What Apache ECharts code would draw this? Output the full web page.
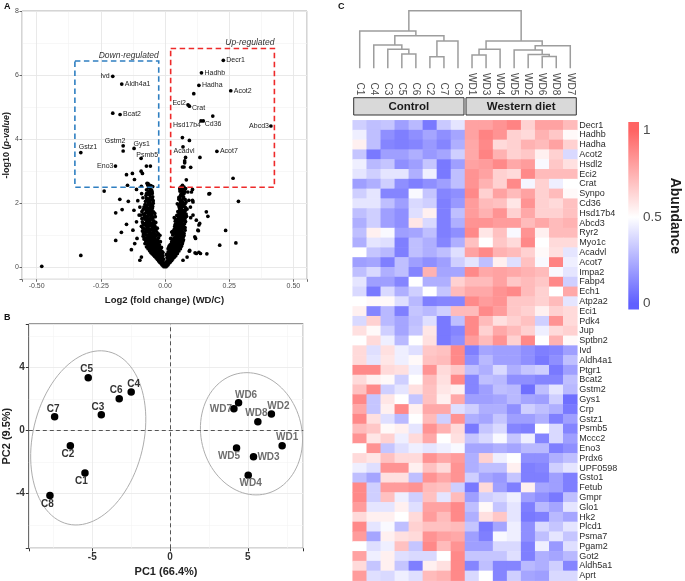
<!DOCTYPE html>
<html><head><meta charset="utf-8">
<script src="https://cdn.jsdelivr.net/npm/echarts@6/dist/echarts.min.js"></script>
<style>html,body{margin:0;padding:0;background:#fff}#c{width:685px;height:581px}</style>
</head><body><div id="c"></div>
<script>
// ================= DATA =================
// Panel A: volcano plot  [log2 FC (WD/C), -log10 p]
const volcanoLabeled = [
  ['Decr1',0.227,6.46],['Hadhb',0.142,6.07],['Hadha',0.132,5.68],['Acot2',0.256,5.51],
  ['Eci2',0.0895,5.07],['Crat',0.095,5.03],['Hsd17b4',0.140,4.57],['Cd36',0.149,4.57],
  ['Abcd3',0.4125,4.41],['Acadvl',0.070,3.76],['Acot7',0.202,3.62],
  ['Ivd',-0.2035,5.96],['Aldh4a1',-0.1685,5.72],['Bcat2',-0.175,4.77],['Gstm2',-0.163,3.79],
  ['Gys1',-0.1206,3.71],['Gstz1',-0.328,3.58],['Psmb5',-0.093,3.40],['Eno3',-0.193,3.16]
];
const volcanoOther = [
  [0.112,5.42],[0.186,4.72],[0.0677,4.05],[0.095,3.96],[0.136,3.43],[0.0766,3.32],[0.0766,3.26],[0.074,3.13],
  [0.1,3.12],[0.265,2.78],[0.083,2.73],[0.08,3.43],[0.068,3.13],
  [-0.2035,4.81],[-0.163,3.63],[-0.0724,3.16],[-0.057,3.16],[-0.150,2.89],[-0.127,2.93],[-0.093,3.0],
  [-0.088,2.93],[-0.119,2.74],[-0.146,2.56],[-0.111,2.43],[-0.067,2.58],[-0.092,2.53],[-0.052,2.53],
  [-0.237,2.38],[-0.176,2.12],[-0.143,2.06],[-0.106,2.08],[-0.192,1.70],[-0.167,1.80],[-0.192,0.84],
  [-0.170,1.09],[-0.131,0.55],[-0.328,0.37],[-0.480,0.03],
  [0.171,2.29],[0.286,2.06],[0.167,1.59],[0.236,1.15],[0.132,1.32],[0.276,0.76],[0.213,0.69],[0.163,0.42],
  [0.132,0.47],[0.117,0.45],[0.095,0.5],[0.107,2.43],[0.103,2.35],[0.058,2.46],[0.061,2.41],[0.107,2.09],
  [0.109,2.04],[0.130,1.14],[0.119,0.9],[0.1,1.55],
  [-0.150,1.34],[-0.125,1.16],[-0.111,1.42],[-0.101,1.63],[-0.091,2.30],[-0.086,2.17],[-0.121,1.78],
  [-0.098,1.88],[-0.092,0.32],[-0.098,0.22],[-0.109,0.90],[-0.118,0.74],[-0.066,2.61],[-0.06,2.56],
  [-0.072,2.30],[-0.05,2.35],[-0.062,1.99],
  [0.064,2.38],[0.08,2.46],[0.089,2.35],[0.054,2.12],[0.093,2.09],[0.099,1.88],[0.109,1.63],[0.122,1.47],
  [0.128,1.16],[0.116,0.95],[0.135,1.37],[0.096,0.53],[0.122,0.43],[0.07,0.22],[0.086,0.32],[0.161,1.73],
  [0.174,2.30],[0.138,0.43],
  // left arm of the volcano
  [-0.004,0.02],[-0.008,0.05],[-0.012,0.08],[-0.006,0.1],[-0.015,0.12],[-0.02,0.15],[-0.01,0.18],[-0.025,0.2],
  [-0.018,0.22],[-0.03,0.25],[-0.022,0.28],[-0.035,0.3],[-0.015,0.32],[-0.04,0.34],[-0.028,0.36],[-0.045,0.38],
  [-0.02,0.4],[-0.05,0.42],[-0.033,0.44],[-0.055,0.46],[-0.025,0.48],[-0.042,0.5],[-0.06,0.52],[-0.018,0.55],
  [-0.048,0.56],[-0.066,0.58],[-0.03,0.6],[-0.056,0.62],[-0.072,0.64],[-0.038,0.66],[-0.062,0.68],[-0.022,0.7],
  [-0.05,0.72],[-0.078,0.74],[-0.034,0.76],[-0.066,0.78],[-0.044,0.8],[-0.075,0.82],[-0.028,0.84],[-0.058,0.86],
  [-0.082,0.88],[-0.04,0.9],[-0.068,0.92],[-0.05,0.95],[-0.085,0.97],[-0.032,1.0],[-0.062,1.02],[-0.078,1.05],
  [-0.045,1.08],[-0.07,1.1],[-0.088,1.13],[-0.036,1.15],[-0.058,1.18],[-0.08,1.2],[-0.05,1.23],[-0.068,1.26],
  [-0.092,1.28],[-0.04,1.3],[-0.062,1.33],[-0.078,1.36],[-0.054,1.38],[-0.088,1.42],[-0.044,1.45],[-0.07,1.48],
  [-0.058,1.52],[-0.082,1.55],[-0.038,1.58],[-0.066,1.6],[-0.094,1.63],[-0.052,1.66],[-0.075,1.7],[-0.045,1.73],
  [-0.062,1.76],[-0.085,1.8],[-0.05,1.84],[-0.07,1.88],[-0.058,1.92],[-0.078,1.96],[-0.046,2.0],[-0.066,2.05],
  [-0.055,2.1],[-0.072,2.15],[-0.048,2.2],[-0.06,2.26],[-0.068,2.32],[-0.052,2.4],[-0.064,2.48],[-0.056,2.55],
  [-0.07,2.62],[-0.01,0.3],[-0.02,0.35],[-0.03,0.45],[-0.012,0.42],[-0.036,0.55],[-0.045,0.65],[-0.014,0.62],
  [-0.026,0.78],[-0.055,0.9],[-0.038,0.95],[-0.025,0.92],[-0.045,1.2],[-0.032,1.1],
  [-0.003,0.06],[-0.009,0.13],[-0.016,0.17],[-0.005,0.14],[-0.022,0.24],[-0.012,0.26],[-0.028,0.32],[-0.008,0.36],
  [-0.018,0.38],[-0.038,0.4],[-0.024,0.52],[-0.012,0.5],[-0.032,0.58],[-0.046,0.6],[-0.052,0.68],[-0.028,0.68],
  [-0.04,0.72],[-0.062,0.74],[-0.018,0.8],[-0.052,0.8],[-0.034,0.86],[-0.07,0.88],[-0.046,0.98],[-0.06,0.96],
  [-0.074,1.0],[-0.026,1.04],[-0.052,1.06],[-0.064,1.12],[-0.04,1.14],[-0.082,1.1],[-0.07,1.22],[-0.03,1.22],
  [-0.058,1.3],[-0.084,1.32],[-0.048,1.35],[-0.072,1.4],[-0.036,1.4],[-0.06,1.44],[-0.052,1.5],[-0.078,1.5],
  [-0.09,1.52],[-0.046,1.56],[-0.072,1.58],[-0.056,1.62],[-0.084,1.66],[-0.066,1.68],[-0.04,1.68],[-0.056,1.72],
  [-0.09,1.74],[-0.072,1.78],[-0.052,1.8],[-0.062,1.84],[-0.082,1.88],[-0.048,1.9],[-0.068,1.96],[-0.058,2.02],
  [-0.076,2.06],[-0.046,2.08],[-0.064,2.14],[-0.056,2.2],[-0.074,2.24],[-0.05,2.3],[-0.062,2.36],[-0.072,2.42],
  [-0.058,2.46],[-0.048,2.52],[-0.066,2.56],[-0.006,0.25],[-0.015,0.45],[-0.022,0.58],[-0.008,0.46],[-0.035,0.8],
  [-0.02,1.0],[-0.045,0.84],[-0.056,1.0],[-0.038,1.25],[-0.066,1.16],
  [-0.014,0.21],[-0.026,0.33],[-0.044,0.47],[-0.036,0.49],[-0.054,0.54],[-0.04,0.57],[-0.062,0.6],[-0.026,0.64],
  [-0.058,0.7],[-0.068,0.72],[-0.046,0.76],[-0.056,0.77],[-0.03,0.72],[-0.064,0.84],[-0.05,0.87],[-0.078,0.9],
  [-0.058,0.94],[-0.044,0.92],[-0.066,0.99],[-0.04,1.03],[-0.084,1.04],[-0.058,1.08],[-0.074,1.15],[-0.05,1.16],
  [-0.062,1.2],[-0.086,1.22],[-0.042,1.26],[-0.074,1.3],[-0.052,1.31],[-0.066,1.36],[-0.086,1.38],[-0.044,1.4],
  [-0.064,1.5],[-0.07,1.54],[-0.05,1.6],[-0.08,1.62],[-0.06,1.66],[-0.072,1.72],[-0.066,1.8],[-0.078,1.84],
  [-0.056,1.86],[-0.074,1.92],[-0.052,1.96],[-0.062,2.08],[-0.07,2.1],[-0.05,2.16],[-0.066,2.28],[-0.056,2.34],
  // right arm of the volcano
  [0.004,0.02],[0.008,0.05],[0.012,0.08],[0.006,0.11],[0.016,0.13],[0.02,0.16],[0.01,0.19],[0.026,0.21],
  [0.018,0.24],[0.03,0.26],[0.014,0.29],[0.036,0.31],[0.024,0.34],[0.042,0.36],[0.018,0.39],[0.032,0.41],
  [0.048,0.43],[0.026,0.46],[0.04,0.48],[0.054,0.51],[0.02,0.53],[0.034,0.56],[0.06,0.58],[0.046,0.61],
  [0.028,0.63],[0.064,0.66],[0.038,0.68],[0.052,0.71],[0.024,0.73],[0.068,0.76],[0.044,0.78],[0.058,0.81],
  [0.032,0.83],[0.072,0.86],[0.05,0.88],[0.036,0.91],[0.062,0.93],[0.046,0.96],[0.074,0.99],[0.03,1.01],
  [0.056,1.04],[0.042,1.07],[0.068,1.1],[0.05,1.13],[0.078,1.16],[0.036,1.19],[0.06,1.22],[0.046,1.25],
  [0.072,1.28],[0.054,1.31],[0.04,1.34],[0.066,1.37],[0.05,1.4],[0.08,1.43],[0.058,1.46],[0.042,1.49],
  [0.07,1.52],[0.054,1.56],[0.084,1.59],[0.046,1.62],[0.064,1.66],[0.076,1.7],[0.05,1.74],[0.068,1.78],
  [0.086,1.82],[0.056,1.86],[0.074,1.9],[0.062,1.94],[0.048,1.98],[0.07,2.02],[0.06,2.07],[0.078,2.12],
  [0.054,2.18],[0.066,2.24],[0.074,2.3],[0.058,2.38],[0.07,2.44],[0.062,2.5],[0.068,2.56],
  [0.01,0.32],[0.022,0.4],[0.012,0.48],[0.04,0.6],[0.016,0.66],[0.026,0.8],[0.04,0.95],[0.022,0.9],
  [0.03,1.12],[0.038,1.28],[0.036,1.55],
  [0.003,0.07],[0.009,0.14],[0.015,0.2],[0.005,0.17],[0.022,0.28],[0.012,0.24],[0.028,0.36],[0.008,0.3],
  [0.034,0.44],[0.018,0.46],[0.044,0.52],[0.028,0.52],[0.012,0.58],[0.05,0.64],[0.034,0.64],[0.058,0.7],
  [0.02,0.7],[0.042,0.74],[0.062,0.8],[0.036,0.78],[0.048,0.84],[0.064,0.9],[0.028,0.88],[0.054,0.98],
  [0.036,1.04],[0.066,1.02],[0.048,1.1],[0.06,1.16],[0.044,1.2],[0.072,1.22],[0.054,1.26],[0.064,1.32],
  [0.048,1.36],[0.076,1.36],[0.058,1.42],[0.04,1.44],[0.068,1.46],[0.05,1.52],[0.078,1.52],[0.06,1.58],
  [0.07,1.62],[0.054,1.66],[0.082,1.66],[0.06,1.72],[0.074,1.76],[0.058,1.8],[0.08,1.86],[0.066,1.88],
  [0.054,1.92],[0.072,1.96],[0.06,2.0],[0.082,2.04],[0.066,2.1],[0.058,2.14],[0.072,2.2],[0.062,2.28],
  [0.078,2.36],[0.066,2.4],[0.058,2.46],[0.074,2.5],[0.016,0.38],[0.006,0.4],[0.024,0.6],[0.03,0.7],
  [0.04,0.86],[0.05,1.0],[0.026,1.1],[0.042,1.3],[0.056,1.12],
  [0.014,0.22],[0.026,0.32],[0.038,0.4],[0.046,0.47],[0.03,0.48],[0.052,0.56],[0.04,0.55],[0.058,0.62],
  [0.022,0.62],[0.046,0.68],[0.066,0.72],[0.032,0.75],[0.052,0.77],[0.07,0.82],[0.044,0.82],[0.058,0.88],
  [0.04,0.9],[0.07,0.94],[0.048,0.94],[0.06,1.0],[0.044,1.03],[0.074,1.06],[0.056,1.08],[0.04,1.15],
  [0.066,1.18],[0.052,1.2],[0.078,1.24],[0.06,1.28],[0.046,1.3],[0.07,1.33],[0.058,1.36],[0.064,1.42],
  [0.074,1.46],[0.046,1.47],[0.062,1.52],[0.072,1.58],[0.056,1.6],[0.078,1.62],[0.066,1.7],[0.056,1.76],
  [0.08,1.78],[0.064,1.82],[0.068,1.92],[0.078,1.98],[0.064,2.04],[0.072,2.14],[0.06,2.22],[0.07,2.34]
];
const regBoxNames = ['Down-regulated','Up-regulated'];
const regBoxes = [[-0.351,2.5,-0.0245,6.44],[0.022,2.5,0.426,6.83]]; // [x0,y0,x1,y1]

// Panel B: PCA
const pcaSamples = ['C1','C2','C3','C4','C5','C6','C7','C8','WD1','WD2','WD3','WD4','WD5','WD6','WD7','WD8'];
const pc1 = [-5.47,-6.41,-4.42,-2.50,-5.26,-3.27,-7.42,-7.72, 7.20,6.51,5.36,5.02,4.27,4.40,4.10,5.64];
const pc2 = [-2.71,-0.98,0.99,2.43,3.34,2.01,0.86,-4.13, -0.98,1.03,-1.68,-2.86,-1.12,1.75,1.37,0.55];
// confidence ellipses: [centre x, centre y, axis1 x, axis1 y, axis2 x, axis2 y]
const pcaEllipses = [[-5.26,-0.48,1.31,5.47,-3.46,0.81],[5.23,-0.22,-0.92,3.81,3.15,0.74]];

// Panel C: heatmap
const heatSamples = ['C1','C4','C3','C5','C6','C2','C7','C8','WD1','WD3','WD4','WD5','WD2','WD6','WD8','WD7'];
const groupNames = ['Control','Western diet'];
const groupSpans = [[0,7],[8,15]];
const genes = ['Decr1','Hadhb','Hadha','Acot2','Hsdl2','Eci2','Crat','Synpo','Cd36','Hsd17b4','Abcd3','Ryr2',
  'Myo1c','Acadvl','Acot7','Impa2','Fabp4','Ech1','Atp2a2','Eci1','Pdk4','Jup','Sptbn2','Ivd','Aldh4a1','Ptgr1',
  'Bcat2','Gstm2','Gys1','Crp','Gstz1','Psmb5','Mccc2','Eno3','Prdx6','UPF0598','Gsto1','Fetub','Gmpr','Glo1',
  'Hk2','Plcd1','Psma7','Pgam2','Got2','Aldh5a1','Aprt'];
const abundance = [
  [0.35,0.30,0.32,0.20,0.28,0.08,0.33,0.42, 0.80,0.80,0.85,0.90,0.65,0.80,0.80,0.72],
  [0.45,0.30,0.15,0.10,0.15,0.22,0.15,0.22, 0.80,0.90,0.85,0.65,0.62,0.75,0.68,0.52],
  [0.55,0.30,0.12,0.10,0.12,0.18,0.12,0.25, 0.78,0.88,0.62,0.65,0.75,0.72,0.80,0.65],
  [0.32,0.08,0.20,0.20,0.25,0.18,0.22,0.35, 0.78,0.90,0.75,0.65,0.68,0.55,0.65,0.38],
  [0.45,0.28,0.32,0.15,0.20,0.32,0.08,0.20, 0.80,0.82,0.88,0.78,0.82,0.48,0.68,0.60],
  [0.42,0.35,0.42,0.42,0.25,0.45,0.08,0.30, 0.85,0.80,0.65,0.62,0.88,0.72,0.72,0.72],
  [0.20,0.25,0.35,0.15,0.10,0.15,0.20,0.30, 0.85,0.75,0.65,0.88,0.47,0.65,0.45,0.50],
  [0.35,0.42,0.12,0.12,0.48,0.32,0.12,0.15, 0.88,0.65,0.80,0.72,0.80,0.65,0.72,0.52],
  [0.42,0.42,0.30,0.20,0.38,0.35,0.10,0.18, 0.82,0.72,0.70,0.58,0.85,0.65,0.62,0.70],
  [0.30,0.35,0.20,0.15,0.40,0.55,0.10,0.30, 0.82,0.75,0.85,0.65,0.78,0.65,0.65,0.70],
  [0.25,0.35,0.20,0.15,0.58,0.38,0.10,0.25, 0.85,0.85,0.82,0.82,0.72,0.78,0.72,0.75],
  [0.30,0.55,0.48,0.20,0.22,0.30,0.10,0.15, 0.88,0.58,0.70,0.48,0.85,0.55,0.72,0.72],
  [0.25,0.42,0.40,0.10,0.30,0.25,0.12,0.25, 0.70,0.50,0.68,0.62,0.88,0.50,0.62,0.62],
  [0.50,0.32,0.28,0.10,0.30,0.25,0.30,0.40, 0.80,0.88,0.75,0.72,0.65,0.52,0.60,0.42],
  [0.20,0.22,0.10,0.30,0.20,0.15,0.20,0.35, 0.42,0.30,0.55,0.40,0.70,0.48,0.90,0.45],
  [0.30,0.38,0.25,0.30,0.12,0.75,0.22,0.22, 0.88,0.78,0.80,0.78,0.75,0.72,0.48,0.42],
  [0.42,0.20,0.20,0.12,0.50,0.25,0.25,0.65, 0.72,0.72,0.80,0.68,0.72,0.68,0.88,0.35],
  [0.38,0.08,0.38,0.25,0.35,0.50,0.32,0.72, 0.78,0.78,0.85,0.88,0.72,0.65,0.50,0.78],
  [0.50,0.52,0.52,0.40,0.28,0.10,0.12,0.12, 0.88,0.82,0.85,0.68,0.68,0.65,0.72,0.42],
  [0.55,0.12,0.28,0.10,0.32,0.28,0.35,0.72, 0.72,0.88,0.82,0.68,0.65,0.55,0.65,0.62],
  [0.38,0.65,0.28,0.22,0.30,0.40,0.08,0.30, 0.88,0.72,0.60,0.65,0.70,0.35,0.85,0.62],
  [0.60,0.52,0.35,0.22,0.32,0.58,0.08,0.12, 0.88,0.65,0.78,0.72,0.65,0.45,0.62,0.65],
  [0.50,0.62,0.45,0.28,0.50,0.60,0.08,0.15, 0.82,0.72,0.85,0.65,0.88,0.50,0.75,0.52],
  [0.62,0.40,0.60,0.45,0.40,0.68,0.70,0.88, 0.10,0.22,0.20,0.20,0.15,0.10,0.12,0.20],
  [0.62,0.42,0.58,0.45,0.52,0.70,0.72,0.88, 0.15,0.28,0.20,0.20,0.15,0.08,0.15,0.30],
  [0.88,0.88,0.62,0.60,0.45,0.85,0.62,0.68, 0.30,0.25,0.38,0.25,0.32,0.35,0.08,0.20],
  [0.62,0.55,0.52,0.35,0.50,0.72,0.60,0.88, 0.12,0.30,0.28,0.15,0.15,0.12,0.12,0.30],
  [0.70,0.88,0.35,0.42,0.60,0.70,0.58,0.55, 0.12,0.20,0.30,0.28,0.05,0.30,0.42,0.28],
  [0.88,0.32,0.58,0.50,0.32,0.70,0.55,0.78, 0.20,0.20,0.22,0.28,0.22,0.20,0.35,0.05],
  [0.78,0.32,0.55,0.88,0.55,0.78,0.78,0.40, 0.35,0.25,0.25,0.15,0.35,0.30,0.25,0.08],
  [0.88,0.60,0.40,0.28,0.50,0.72,0.35,0.85, 0.25,0.22,0.32,0.20,0.20,0.25,0.10,0.20],
  [0.72,0.68,0.52,0.55,0.42,0.85,0.75,0.62, 0.08,0.32,0.38,0.12,0.10,0.50,0.38,0.12],
  [0.85,0.58,0.65,0.45,0.62,0.78,0.50,0.60, 0.32,0.38,0.48,0.32,0.45,0.12,0.38,0.20],
  [0.50,0.85,0.32,0.40,0.45,0.42,0.45,0.48, 0.22,0.22,0.25,0.22,0.28,0.28,0.10,0.15],
  [0.62,0.58,0.70,0.62,0.62,0.85,0.78,0.82, 0.25,0.65,0.45,0.50,0.15,0.15,0.25,0.30],
  [0.45,0.40,0.85,0.85,0.55,0.70,0.62,0.85, 0.25,0.30,0.30,0.55,0.10,0.12,0.35,0.42],
  [0.30,0.22,0.60,0.60,0.30,0.85,0.78,0.85, 0.35,0.22,0.18,0.32,0.10,0.10,0.20,0.10],
  [0.88,0.35,0.82,0.82,0.85,0.72,0.70,0.35, 0.08,0.62,0.20,0.10,0.55,0.22,0.20,0.10],
  [0.88,0.35,0.70,0.45,0.35,0.70,0.42,0.72, 0.20,0.35,0.38,0.45,0.20,0.15,0.08,0.30],
  [0.82,0.42,0.42,0.55,0.40,0.80,0.80,0.88, 0.30,0.52,0.32,0.42,0.10,0.28,0.22,0.42],
  [0.62,0.55,0.55,0.50,0.62,0.82,0.72,0.88, 0.25,0.60,0.68,0.42,0.08,0.10,0.28,0.22],
  [0.88,0.42,0.48,0.30,0.65,0.70,0.70,0.72, 0.32,0.08,0.22,0.45,0.15,0.38,0.32,0.42],
  [0.82,0.22,0.55,0.60,0.62,0.85,0.80,0.78, 0.20,0.10,0.48,0.45,0.15,0.30,0.42,0.32],
  [0.50,0.40,0.45,0.70,0.32,0.88,0.72,0.85, 0.20,0.20,0.38,0.38,0.10,0.45,0.18,0.40],
  [0.80,0.45,0.55,0.40,0.38,0.38,0.50,0.88, 0.32,0.32,0.32,0.40,0.10,0.25,0.22,0.28],
  [0.62,0.32,0.55,0.32,0.10,0.55,0.60,0.88, 0.12,0.30,0.12,0.12,0.28,0.25,0.35,0.12],
  [0.82,0.40,0.38,0.45,0.40,0.72,0.75,0.88, 0.38,0.50,0.12,0.35,0.22,0.20,0.38,0.38]
];
// hierarchical clustering of the samples: [child A, child B, merge height]
const dendroMerges = [
  ['C5','C6',2.98],['C3','m0',3.96],['C4','m1',4.85],['C2','C7',2.42],['m3','C8',5.69],
  ['m2','m4',6.79],['C1','m5',7.77],['WD1','WD3',2.77],['m7','WD4',3.96],['WD6','WD8',2.46],
  ['WD2','m9',2.88],['WD5','m10',3.81],['m11','WD7',4.71],['m8','m12',5.69],['m6','m13',12.0]
];
const colorbarTicks = [0, 0.5, 1];

// ================= STYLE / BUILD =================
const FONT = 'Liberation Sans, Arial, Helvetica, sans-serif';
const RED = '#ff6464', WHITE = '#ffffff', BLUE = '#5f5fff';
const fmtStep = (step, f) => v => (Math.abs(v / step - Math.round(v / step)) < 1e-6 ? f(v) : '');

const volcanoPlace = {
  Decr1:['left',3,0], Hadhb:['left',3,0], Hadha:['left',3,0], Acot2:['left',3,0],
  Eci2:['right',-2,-2], Crat:['left',2.5,1.5], Hsd17b4:['right',0,4.5], Cd36:['left',1.5,3],
  Abcd3:['right',-2,0], Acadvl:['center',1,4], Acot7:['left',3,0], Ivd:['right',-3,0],
  Aldh4a1:['left',3,0], Bcat2:['left',3,0], Gstm2:['center',-8,-4.5], Gys1:['left',-0.5,-4],
  Gstz1:['left',-2,-6], Psmb5:['center',6,-3.5], Eno3:['right',-2,0]
};
const pcaPlace = {
  C5:[-1.5,-8], C4:[2.5,-8], C6:[-3,-8], C3:[-3.5,-7.5], C7:[-1.5,-8], C2:[-2.5,8.5], C1:[-3.5,8.5], C8:[-2.5,8.5],
  WD6:[7.5,-8], WD7:[-13,0.5], WD2:[7,-8], WD8:[-1.5,-8], WD1:[5,-8.5], WD5:[-7.5,8.5], WD3:[15,0], WD4:[2.5,8]
};

// dendrogram geometry from merges (node x = mean of leaf positions)
const nodeInfo = {};
heatSamples.forEach((s, i) => { nodeInfo[s] = { leaves: [i], h: 0 }; });
const dendroSegs = [];
dendroMerges.forEach((m, k) => {
  const a = nodeInfo[m[0]], b = nodeInfo[m[1]];
  const leaves = a.leaves.concat(b.leaves);
  const xa = a.leaves.reduce((s, v) => s + v, 0) / a.leaves.length;
  const xb = b.leaves.reduce((s, v) => s + v, 0) / b.leaves.length;
  nodeInfo['m' + k] = { leaves, h: m[2] };
  dendroSegs.push([xa, a.h, xb, b.h, m[2]]);
});

const heatData = [];
abundance.forEach((row, r) => row.forEach((v, c) => heatData.push([c, r, v])));

const hidden = { show: false };
const noLine = { show: false, onZero: false };
const ax = (gi, extra) => Object.assign({ gridIndex: gi, type: 'value' }, extra);

const xAxes = [
  ax(0, { position: 'bottom', min: -0.557, max: 0.553, minInterval: 0.125, maxInterval: 0.125,
    axisLine: noLine, axisTick: hidden, axisLabel: hidden,
    splitLine: { show: true, lineStyle: { color: '#f2f2f2', width: 0.6 } } }),
  ax(0, { position: 'bottom', min: -0.557, max: 0.553, minInterval: 0.25, maxInterval: 0.25, z: 1,
    axisLine: noLine, axisTick: { show: true, length: 2.5, lineStyle: { color: '#444', width: 0.8 } },
    axisLabel: { fontSize: 7, color: '#4d4d4d', margin: 3, formatter: fmtStep(0.25, v => v.toFixed(2)) },
    splitLine: { show: true, lineStyle: { color: '#e6e6e6', width: 0.9 } },
    name: 'Log2 (fold change) (WD/C)', nameLocation: 'middle', nameGap: 16,
    nameTextStyle: { fontSize: 9.5, fontWeight: 'bold', color: '#222' } }),
  ax(1, { position: 'bottom', min: -9.08, max: 8.56, minInterval: 2.5, maxInterval: 2.5,
    axisLine: noLine, axisTick: hidden, axisLabel: hidden,
    splitLine: { show: true, lineStyle: { color: '#f3f3f3', width: 0.6 } } }),
  ax(1, { position: 'bottom', min: -9.08, max: 8.56, minInterval: 5, maxInterval: 5, z: 1,
    axisLine: noLine, axisTick: { show: true, length: 3, lineStyle: { color: '#333' } },
    axisLabel: { fontSize: 10, fontWeight: 'bold', color: '#333', margin: 4, formatter: fmtStep(5, v => String(Math.round(v))) },
    splitLine: { show: true, lineStyle: { color: '#ebebeb', width: 0.9 } },
    name: 'PC1 (66.4%)', nameLocation: 'middle', nameGap: 18,
    nameTextStyle: { fontSize: 11, fontWeight: 'bold', color: '#222' } }),
  ax(2, { min: -0.5, max: 15.5, show: false }),
  ax(3, { min: -0.5, max: 15.5, show: false }),
  { gridIndex: 4, type: 'category', data: heatSamples, position: 'top',
    axisLine: noLine, axisTick: hidden, splitLine: hidden,
    axisLabel: { rotate: 90, margin: 25, fontSize: 10, color: '#4d4d4d', interval: 0 } },
  { gridIndex: 5, type: 'category', data: ['a'], show: false }
];
const yAxes = [
  ax(0, { position: 'left', min: -0.375, max: 8, minInterval: 1, maxInterval: 1,
    axisLine: noLine, axisTick: hidden, axisLabel: hidden,
    splitLine: { show: true, lineStyle: { color: '#f2f2f2', width: 0.6 } } }),
  ax(0, { position: 'left', min: -0.375, max: 8, minInterval: 2, maxInterval: 2, z: 1,
    axisLine: noLine, axisTick: { show: true, length: 2.5, lineStyle: { color: '#444', width: 0.8 } },
    axisLabel: { fontSize: 7, color: '#4d4d4d', margin: 3, formatter: fmtStep(2, v => String(Math.round(v))) },
    splitLine: { show: true, lineStyle: { color: '#e6e6e6', width: 0.9 } },
    name: '-log10 ({it|p-value})', nameLocation: 'middle', nameGap: 10,
    nameTextStyle: { fontSize: 9, fontWeight: 'bold', color: '#222',
      rich: { it: { fontSize: 9, fontStyle: 'italic', fontWeight: 'bold', color: '#222' } } } }),
  ax(1, { position: 'left', min: -7.49, max: 6.75, minInterval: 2, maxInterval: 2,
    axisLine: noLine, axisTick: hidden, axisLabel: hidden,
    splitLine: { show: true, lineStyle: { color: '#f3f3f3', width: 0.6 } } }),
  ax(1, { position: 'left', min: -7.49, max: 6.75, minInterval: 4, maxInterval: 4, z: 1,
    axisLine: noLine, axisTick: { show: true, length: 3, lineStyle: { color: '#333' } },
    axisLabel: { fontSize: 10, fontWeight: 'bold', color: '#333', margin: 4, formatter: fmtStep(4, v => String(Math.round(v))) },
    splitLine: { show: true, lineStyle: { color: '#ebebeb', width: 0.9 } },
    name: 'PC2 (9.5%)', nameLocation: 'middle', nameGap: 11,
    nameTextStyle: { fontSize: 11, fontWeight: 'bold', color: '#222' } }),
  ax(2, { min: 0, max: 12, show: false }),
  ax(3, { min: 0, max: 1, show: false }),
  { gridIndex: 4, type: 'category', data: genes, inverse: true, position: 'right',
    axisLine: noLine, axisTick: hidden, splitLine: hidden,
    axisLabel: { fontSize: 9, color: '#2b2b2b', margin: 2, interval: 0 } },
  ax(5, { min: -0.035, max: 1.0506, minInterval: 0.5, maxInterval: 0.5, position: 'right',
    axisLine: noLine, axisTick: hidden, splitLine: hidden,
    axisLabel: { fontSize: 13.5, color: '#4d4d4d', margin: 4,
      formatter: v => (colorbarTicks.some(t => Math.abs(t - v) < 1e-6) ? String(v) : '') },
    name: 'Abundance', nameLocation: 'middle', nameRotate: -90, nameGap: 29,
    nameTextStyle: { fontSize: 14, fontWeight: 'bold', color: '#1a1a1a' } })
];

const cbSpan = 1.0506 + 0.035;
const cbOff = v => (1.0506 - v) / cbSpan;
const colorbarFill = new echarts.graphic.LinearGradient(0, 0, 0, 1, [
  { offset: 0, color: RED }, { offset: cbOff(1), color: RED }, { offset: cbOff(0.5), color: WHITE },
  { offset: cbOff(0), color: BLUE }, { offset: 1, color: BLUE }
]);

const grids = [
  { left: 22, top: 11, width: 285, height: 268.3, show: true, borderColor: '#ababab', borderWidth: 1, backgroundColor: '#fff' },
  { left: 28, top: 324, width: 275.3, height: 224.3, show: true, borderColor: '#333', borderWidth: 1, backgroundColor: '#fff' },
  { left: 352.7, top: 10.7, width: 224.6, height: 57.6 },
  { left: 352.7, top: 97.7, width: 224.6, height: 17.3 },
  { left: 352.7, top: 120.3, width: 224.6, height: 460.4 },
  { left: 628.3, top: 122, width: 10.7, height: 187.6, show: true, borderWidth: 0, backgroundColor: colorbarFill }
];

const dotStyle = { color: '#000', opacity: 1, borderWidth: 0 };
const series = [];
series.push({
  type: 'custom', xAxisIndex: 1, yAxisIndex: 1, z: 3, silent: true,
  data: regBoxes,
  renderItem(params, api) {
    const p0 = api.coord([api.value(0), api.value(3)]);
    const p1 = api.coord([api.value(2), api.value(1)]);
    const col = params.dataIndex === 0 ? '#2f7fc1' : '#ee2a2a';
    return { type: 'group', children: [
      { type: 'rect', shape: { x: p0[0], y: p0[1], width: p1[0] - p0[0], height: p1[1] - p0[1] },
        style: { fill: null, stroke: col, lineWidth: 1.6, lineDash: [5.5, 3.5] } },
      { type: 'text', style: { text: regBoxNames[params.dataIndex], x: p1[0], y: p0[1] - 1, align: 'right',
        verticalAlign: 'bottom', fontSize: 8.5, fontStyle: 'italic', fontFamily: FONT, fill: '#333' } }
    ] };
  }
});
series.push({
  type: 'scatter', xAxisIndex: 1, yAxisIndex: 1, symbolSize: 3.7, silent: true, large: false,
  itemStyle: dotStyle, data: volcanoOther
});
series.push({
  type: 'scatter', xAxisIndex: 1, yAxisIndex: 1, symbolSize: 3.7, silent: true, z: 4,
  itemStyle: dotStyle,
  label: { show: true, position: 'inside', formatter: p => p.name, fontSize: 7, color: '#222', fontFamily: FONT },
  data: volcanoLabeled.map(d => {
    const pl = volcanoPlace[d[0]];
    return { name: d[0], value: [d[1], d[2]], label: { align: pl[0], verticalAlign: 'middle', offset: [pl[1], pl[2]] } };
  })
});
series.push({
  type: 'custom', xAxisIndex: 3, yAxisIndex: 3, silent: true, z: 2,
  data: pcaEllipses,
  renderItem(params, api) {
    const v = [0, 1, 2, 3, 4, 5].map(i => api.value(i));
    const pts = [];
    for (let k = 0; k <= 96; k++) {
      const t = k / 96 * 2 * Math.PI;
      pts.push(api.coord([v[0] + v[2] * Math.cos(t) + v[4] * Math.sin(t), v[1] + v[3] * Math.cos(t) + v[5] * Math.sin(t)]));
    }
    return { type: 'polyline', shape: { points: pts }, style: { stroke: '#adadad', lineWidth: 1, fill: null } };
  }
});
series.push({
  type: 'scatter', xAxisIndex: 3, yAxisIndex: 3, symbolSize: 7.5, silent: true, z: 3,
  itemStyle: dotStyle,
  label: { show: true, position: 'inside', formatter: p => p.name, fontSize: 10, fontWeight: 'bold', fontFamily: FONT },
  markLine: { silent: true, symbol: 'none', label: { show: false },
    lineStyle: { color: '#555', type: [4, 3], width: 1 }, data: [{ xAxis: 0 }, { yAxis: 0 }] },
  data: pcaSamples.map((s, i) => ({
    name: s, value: [pc1[i], pc2[i]],
    label: { align: 'center', verticalAlign: 'middle', offset: pcaPlace[s], color: s.startsWith('WD') ? '#6e6e6e' : '#333' }
  }))
});
series.push({
  type: 'custom', xAxisIndex: 4, yAxisIndex: 4, silent: true, data: dendroSegs,
  renderItem(params, api) {
    const p = [[0, 1], [0, 4], [2, 4], [2, 3]].map(ij => api.coord([api.value(ij[0]), api.value(ij[1])]));
    return { type: 'polyline', shape: { points: p }, style: { stroke: '#9d9d9d', lineWidth: 1.5, fill: null } };
  }
});
series.push({
  type: 'custom', xAxisIndex: 5, yAxisIndex: 5, silent: true, data: groupSpans,
  renderItem(params, api) {
    const a = api.coord([api.value(0) - 0.5, 1]);
    const b = api.coord([api.value(1) + 0.5, 0]);
    return { type: 'group', children: [
      { type: 'rect', shape: { x: a[0] + 1, y: a[1], width: b[0] - a[0] - 2, height: b[1] - a[1] },
        style: { fill: '#d9d9d9', stroke: '#333', lineWidth: 1 } },
      { type: 'text', style: { text: groupNames[params.dataIndex], x: (a[0] + b[0]) / 2, y: (a[1] + b[1]) / 2,
        align: 'center', verticalAlign: 'middle', fontSize: 11.5, fontWeight: 'bold', fontFamily: FONT, fill: '#1a1a1a' } }
    ] };
  }
});
series.push({ type: 'heatmap', xAxisIndex: 6, yAxisIndex: 6, data: heatData, silent: true,
  itemStyle: { borderWidth: 0 }, emphasis: { disabled: true } });
const heatIndex = series.length - 1;

const option = {
  animation: false,
  backgroundColor: '#fff',
  textStyle: { fontFamily: FONT },
  grid: grids,
  xAxis: xAxes,
  yAxis: yAxes,
  visualMap: { show: false, type: 'continuous', seriesIndex: heatIndex, dimension: 2, min: 0, max: 1,
    inRange: { color: [BLUE, WHITE, RED] } },
  graphic: [
    { type: 'text', left: 4, top: 2, style: { text: 'A', fontSize: 9, fontWeight: 'bold', fill: '#111', fontFamily: FONT } },
    { type: 'text', left: 4, top: 313, style: { text: 'B', fontSize: 9, fontWeight: 'bold', fill: '#111', fontFamily: FONT } },
    { type: 'text', left: 338, top: 2, style: { text: 'C', fontSize: 9, fontWeight: 'bold', fill: '#111', fontFamily: FONT } }
  ],
  series
};
const chart = echarts.init(document.getElementById('c'), null, { renderer: 'canvas' });
chart.setOption(option);
</script>
</body></html>
